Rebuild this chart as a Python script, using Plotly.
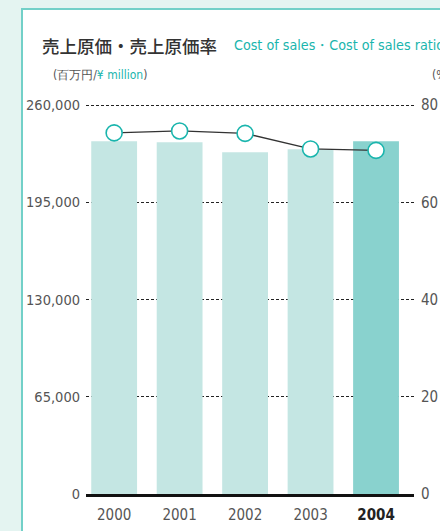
import plotly.graph_objects as go

# Data
years = ["2000", "2001", "2002", "2003", "2004"]
cost_of_sales = [235900, 235300, 228600, 230600, 235900]   # ¥ million
cost_ratio = [74.3, 74.7, 74.2, 71.0, 70.7]                  # %
y_left_ticks = [0, 65000, 130000, 195000, 260000]
y_right_ticks = [0, 20, 40, 60, 80]

TEAL = "#1ab5ad"
BAR_LIGHT = "#c4e6e3"
BAR_DARK = "#89d2ce"
GREY = "#555555"
NARROW = "Liberation Sans Narrow, DejaVu Sans Condensed, Liberation Sans, sans-serif"
CJK = "Noto Sans CJK JP, sans-serif"

W, H = 440, 531
ML, MR, MT, MB = 86, 26, 104, 37
PW, PH = W - ML - MR, H - MT - MB

# a small headroom so the top grid line sits inside the plot area
Y_TOP = 260800
Y2_TOP = 80 * Y_TOP / 260000


def px_x(x):
    return (x - ML) / PW


def px_y(y):
    return (H - MB - y) / PH


bar_colors = [BAR_LIGHT] * (len(years) - 1) + [BAR_DARK]
xpos = list(range(len(years)))

fig = go.Figure()
fig.add_trace(go.Bar(
    x=xpos, y=cost_of_sales, marker=dict(color=bar_colors, line=dict(width=0)),
    width=0.7, yaxis="y", hoverinfo="skip", showlegend=False,
))
fig.add_trace(go.Scatter(
    x=xpos, y=cost_ratio, yaxis="y2", mode="lines+markers",
    line=dict(color="#333333", width=1.3),
    marker=dict(size=16, color="white", line=dict(color=TEAL, width=1.6)),
    showlegend=False, hoverinfo="skip",
))

tick_text = years[:-1] + ["<b><span style='color:#222222'>" + years[-1] + "</span></b>"]

fig.update_layout(
    width=W, height=H,
    margin=dict(l=ML, r=MR, t=MT, b=MB, pad=0, autoexpand=False),
    paper_bgcolor="#e4f4f1",
    plot_bgcolor="rgba(0,0,0,0)",
    xaxis=dict(
        tickmode="array", tickvals=xpos, ticktext=tick_text,
        range=[-0.43, 4.58], showgrid=False, zeroline=False,
        showline=True, linecolor="#111111", linewidth=2.5,
        ticks="", tickfont=dict(family=NARROW, size=15, color=GREY),
        ticklabelstandoff=5, automargin=False,
    ),
    yaxis=dict(
        range=[0, Y_TOP], tickmode="array", tickvals=y_left_ticks,
        ticktext=[f"{v:,}" for v in y_left_ticks],
        showgrid=True, gridcolor="#222222", gridwidth=1, griddash="3px,2px",
        zeroline=False, showline=False, ticks="",
        tickfont=dict(family=NARROW, size=14.5, color=GREY),
        ticklabelstandoff=5, automargin=False,
    ),
    yaxis2=dict(
        range=[0, Y2_TOP], overlaying="y", side="right", tickmode="array",
        tickvals=y_right_ticks, showgrid=False, zeroline=False,
        showline=False, ticks="",
        tickfont=dict(family=NARROW, size=15, color=GREY),
        ticklabelstandoff=6, automargin=False,
    ),
    shapes=[dict(
        type="rect", xref="paper", yref="paper", layer="below",
        x0=px_x(22), x1=px_x(460), y0=px_y(560), y1=px_y(9),
        fillcolor="white", line=dict(color="#72d0c8", width=2),
    )],
    annotations=[
        dict(text="売上原価・売上原価率", xref="paper", yref="paper",
             x=px_x(40), y=px_y(45), xanchor="left", yanchor="middle",
             showarrow=False,
             font=dict(family=CJK, size=17.5, color="#333333", weight=500)),
        dict(text="Cost of sales・Cost of sales ratio", xref="paper", yref="paper",
             x=px_x(232), y=px_y(45), xanchor="left", yanchor="middle",
             showarrow=False, font=dict(family=NARROW, size=14.2, color=TEAL)),
        dict(text="(百万円/<span style='color:%s'>¥ million</span>)" % TEAL,
             xref="paper", yref="paper", x=px_x(51), y=px_y(75),
             xanchor="left", yanchor="middle", showarrow=False,
             font=dict(family=NARROW, size=12, color=GREY)),
        dict(text="(%)", xref="paper", yref="paper", x=px_x(430), y=px_y(75),
             xanchor="left", yanchor="middle", showarrow=False,
             font=dict(family=NARROW, size=12, color=GREY)),
    ],
)

fig.write_html("out.html")
